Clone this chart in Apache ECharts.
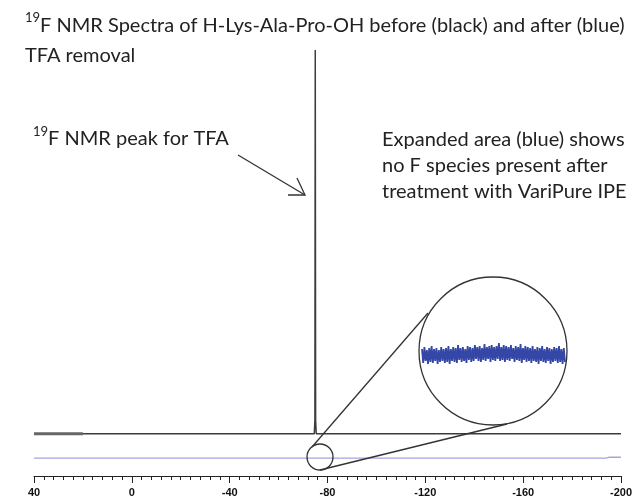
<!DOCTYPE html>
<html>
<head>
<meta charset="utf-8">
<script src="https://cdn.jsdelivr.net/npm/echarts@6/dist/echarts.min.js"></script>
<style>
html, body { margin: 0; padding: 0; background: #fff; }
#chart { width: 635px; height: 499px; }
</style>
</head>
<body>
<div id="chart"></div>
<script>
// ppm axis, drawn reversed (40 on the left, -200 on the right)
var ppmMin = -200, ppmMax = 40, ppmStep = 40;

// black trace (before TFA removal): flat baseline + TFA peak at about -75 ppm
var beforePpm = [40, 20, 0, -40, -74.6, -74.85, -75.0, -75.15, -75.4, -120, -160, -200];
var beforeVal = [9.9, 9.9, 9.9, 9.9, 9.9, 13, 100, 13, 9.9, 9.9, 9.9, 9.9];
// heavier bit of the black trace at the far left
var beforeThickPpm = [40, 20];
var beforeThickVal = [9.9, 9.9];

// blue trace (after): flat with a few tiny blips
var afterPpm = [40, 28.2, 28, 27.8, 0.2, 0, -0.2, -43.8, -44, -44.2, -128.8, -129, -129.2, -149.8, -150, -150.2, -193.8, -194, -194.2, -195, -200];
var afterVal = [4.2, 4.2, 4.6, 4.2, 4.2, 4.6, 4.2, 4.2, 4.5, 4.2, 4.2, 4.5, 4.2, 4.2, 4.6, 4.2, 4.2, 4.5, 4.2, 4.4, 4.4];

// expanded (zoomed) blue noise: upper and lower envelope of the band
var noiseHigh = [6,8,5,7,9,6,7,5,8,6,7,9,6,8,7,10,7,8,6,9,8,7,10,8,9,7,11,8,9,10,8,9,12,8,10,9,8,10,7,9,8,11,7,9,8,7,9,6,8,7,9,6,8,7,6,8,7,9,6,7];
var noiseLow = [-8,-6,-9,-7,-8,-6,-9,-7,-6,-8,-7,-9,-6,-7,-8,-5,-7,-6,-8,-5,-7,-6,-4,-6,-7,-5,-6,-4,-7,-5,-6,-4,-6,-5,-7,-5,-6,-4,-7,-5,-6,-8,-5,-7,-6,-8,-6,-7,-9,-6,-7,-8,-6,-9,-7,-6,-8,-7,-9,-7];

function pairs(xs, ys) {
	return xs.map(function (x, i) { return [x, ys[i]]; });
}

var noiseData = [];
noiseHigh.forEach(function (v, i) {
	noiseData.push([i * 2, v]);
	noiseData.push([i * 2 + 1, noiseLow[i]]);
});

var txtFont = 'Lato';
var ink = '#333';

var chart = echarts.init(document.getElementById('chart'));
var option = {
	animation: false,
	backgroundColor: '#fff',
	grid: [
		{ left: 34, right: 8, top: 50, bottom: 23 },
		{ left: 422, top: 340, width: 143, height: 30 }
	],
	xAxis: [{
		type: 'value',
		gridIndex: 0,
		min: ppmMin,
		max: ppmMax,
		interval: ppmStep,
		inverse: true,
		axisLine: { lineStyle: { color: '#222', width: 1 } },
		axisTick: { length: 7, lineStyle: { color: '#222', width: 1 } },
		minorTick: { show: true, splitNumber: 10, length: 4, lineStyle: { color: '#222', width: 1 } },
		splitLine: { show: false },
		axisLabel: {
			margin: 11,
			fontFamily: 'Liberation Sans',
			fontWeight: 'bold',
			fontSize: 11,
			color: '#111'
		}
	}, {
		type: 'value',
		gridIndex: 1,
		min: 0,
		max: noiseData.length - 1,
		show: false
	}],
	yAxis: [
		{ type: 'value', gridIndex: 0, min: 0, max: 100, show: false },
		{ type: 'value', gridIndex: 1, min: -15, max: 15, show: false }
	],
	series: [{
		type: 'line',
		data: pairs(afterPpm, afterVal),
		symbol: 'none',
		lineStyle: { color: '#a4a4e2', width: 1.3 }
	}, {
		type: 'line',
		data: pairs(beforePpm, beforeVal),
		symbol: 'none',
		lineStyle: { color: '#3c3c3c', width: 1.5 }
	}, {
		type: 'line',
		data: pairs(beforeThickPpm, beforeThickVal),
		symbol: 'none',
		lineStyle: { color: '#666', width: 3 }
	}, {
		type: 'line',
		xAxisIndex: 1,
		yAxisIndex: 1,
		data: noiseData,
		symbol: 'none',
		lineStyle: { color: '#3547a6', width: 1.8 }
	}],
	graphic: [
		// magnifier
		{ type: 'circle', z: 100, shape: { cx: 320, cy: 457, r: 13 }, style: { fill: null, stroke: ink, lineWidth: 1.3 } },
		{ type: 'circle', z: 100, shape: { cx: 493, cy: 351, r: 74 }, style: { fill: null, stroke: ink, lineWidth: 1.3 } },
		{ type: 'line', z: 100, shape: { x1: 312, y1: 447, x2: 428, y2: 313 }, style: { stroke: ink, lineWidth: 1.3 } },
		{ type: 'line', z: 100, shape: { x1: 320, y1: 470, x2: 507, y2: 424 }, style: { stroke: ink, lineWidth: 1.3 } },
		// arrow to the peak
		{ type: 'line', z: 100, shape: { x1: 238, y1: 155, x2: 305, y2: 195 }, style: { stroke: ink, lineWidth: 1.3 } },
		{ type: 'polyline', z: 100, shape: { points: [[288, 195], [305, 195], [297, 178]] }, style: { fill: null, stroke: ink, lineWidth: 1.3 } },
		// texts
		{
			type: 'text', z: 100, left: 25, top: 11,
			style: {
				text: '{sup|19}{t|F NMR Spectra of H-Lys-Ala-Pro-OH before (black) and after (blue)}\n{t|TFA removal}',
				fill: '#222',
				rich: {
					sup: { fontFamily: txtFont, fontSize: 13, verticalAlign: 'top', fill: '#222' },
					t: { fontFamily: txtFont, fontSize: 20, lineHeight: 30, fill: '#222' }
				}
			}
		},
		{
			type: 'text', z: 100, left: 33, top: 125,
			style: {
				text: '{sup|19}{t|F NMR peak for TFA}',
				fill: '#222',
				rich: {
					sup: { fontFamily: txtFont, fontSize: 13, verticalAlign: 'top', fill: '#222' },
					t: { fontFamily: txtFont, fontSize: 20, lineHeight: 27, fill: '#222' }
				}
			}
		},
		{
			type: 'text', z: 100, left: 382, top: 127,
			style: {
				text: 'Expanded area (blue) shows\nno F species present after\ntreatment with VariPure IPE',
				fontFamily: txtFont,
				fontSize: 20,
				lineHeight: 26,
				fill: '#222'
			}
		}
	]
};
chart.setOption(option);
</script>
</body>
</html>
